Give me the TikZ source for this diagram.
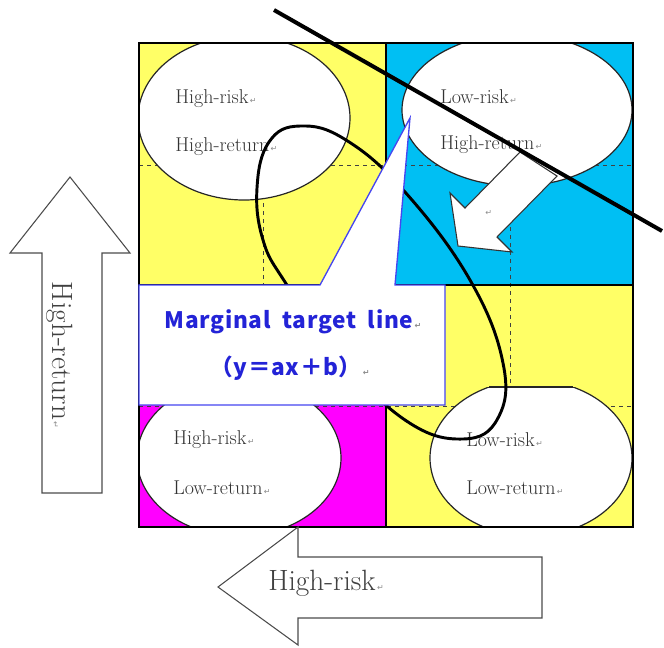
\documentclass[tikz,border=0pt]{standalone}
\usepackage{fontspec}
\usepackage{xcolor}
\usepackage{tikz}
\usetikzlibrary{positioning}
\newfontfamily\gothfont{Noto Sans CJK JP}[LetterSpace=3]
\newfontfamily\retfont{DejaVu Sans}
\definecolor{qyellow}{RGB}{255,255,102}
\definecolor{qcyan}{RGB}{0,191,243}
\definecolor{qmagenta}{RGB}{255,0,255}
\definecolor{calloutblue}{RGB}{70,70,240}
\definecolor{textblue}{RGB}{35,35,215}
\newcommand{\retmark}{{\retfont\fontsize{6}{6}\selectfont\color{black!45}\,↵}}

\begin{document}
\begin{tikzpicture}[x=0.75pt,y=-0.75pt,
  quadlbl/.style={font=\fontsize{15}{17}\selectfont,text=black!80,anchor=west,inner sep=0pt},
  biglbl/.style={font=\fontsize{22}{24}\selectfont,text=black!75,inner sep=0pt},
  bluelbl/.style={font=\gothfont\bfseries\fontsize{17}{19}\selectfont,text=textblue},
  bigarrow/.style={draw=black!70,fill=white,line width=0.8pt},
  gridline/.style={dashed,black!75,line width=0.7pt},
  oval/.style={draw=black!85,fill=white,line width=0.9pt}]
  \useasboundingbox (0,0) rectangle (664,647);
  \def\xl{139}\def\xm{386}\def\xr{633}
  \def\yt{43}\def\ym{285}\def\yd{527}
  % quadrants
  \fill[qyellow] (\xl,\yt) rectangle (\xm,\ym);
  \fill[qcyan] (\xm,\yt) rectangle (\xr,\ym);
  \fill[qmagenta] (\xl,\ym) rectangle (\xm,\yd);
  \fill[qyellow] (\xm,\ym) rectangle (\xr,\yd);
  % dashed grid
  \foreach \x in {263,510} \draw[gridline] (\x,\yt)--(\x,\yd);
  \foreach \y in {165,406} \draw[gridline] (\xl,\y)--(\xr,\y);
  % ovals, cut flat at the top
  \foreach \cx/\cy/\rx/\ry/\ctop in {244/118/106/82/43,517/110/115/76/43,239/458/102/78/390,531/458/101/78/387} {
    \begin{scope}
      \clip (\xl,\ctop) rectangle (\xr,\yd);
      \draw[oval] (\cx,\cy) ellipse [x radius=\rx, y radius=\ry];
    \end{scope}
    \pgfmathsetmacro\hc{\rx*sqrt(1-((\cy-\ctop)/\ry)^2)}
    \draw[oval,fill=none] (\cx-\hc,\ctop)--(\cx+\hc,\ctop);
  }
  % frame
  \draw[line width=1.2pt] (\xl,\yt) rectangle (\xr,\yd) (\xm,\yt)--(\xm,\yd) (\xl,\ym)--(\xr,\ym);
  \node[quadlbl] (tlrisk) at (175,99) {High-risk\retmark};
  \node[quadlbl] (tlret) at (175,147) {High-return\retmark};
  \node[quadlbl] (trrisk) at (440,97) {Low-risk\retmark};
  \node[quadlbl] (trret) at (440,145) {High-return\retmark};
  \node[quadlbl] (blrisk) at (173,440) {High-risk\retmark};
  \node[quadlbl] (blret) at (173,488) {Low-return\retmark};
  \node[quadlbl] (brrisk) at (466,440) {Low-risk\retmark};
  \node[quadlbl] (brret) at (466,488) {Low-return\retmark};
  % loop
  \draw[line width=2.2pt] plot[smooth cycle,tension=0.7] coordinates {(257,188) (269,142) (300,126) (346,140) (405,192) (470,280) (503,363) (498,418) (463,439) (405,420) (335,352) (285,282) (263,240)};
  % callout
  \draw[calloutblue,fill=white,line width=1pt] (\xl,\ym)--(320,\ym)--(410,118)--(395,\ym)--(445,\ym)--(445,405)--(\xl,405)--cycle;
  \node[bluelbl] (mtl) at (293,322) {Marginal\ \ target\ \ line\retmark};
  \node[bluelbl] (eqn) at (290,368) {（y＝ax＋b）\retmark};
  % arrow into the quadrant
  \draw[draw=black!80,fill=white,line width=0.8pt] (520,152)--(557,176)--(497,237)--(512,252)--(458,246)--(450,193)--(465,208)--cycle;
  \node[inner sep=0pt] (arrmark) at (488,213) {\retmark};
  % target line
  \draw[line width=3pt] (274,10)--(662,231);
  % side arrows
  \draw[bigarrow] (70,177)--(130,253)--(102,253)--(102,493)--(42,493)--(42,253)--(10,253)--cycle;
  \node[biglbl,rotate=-90] (hret) at (60,355) {High-return\retmark};
  \draw[bigarrow] (218,587)--(298,527)--(298,557)--(542,557)--(542,618)--(298,618)--(298,645)--cycle;
  \node[biglbl,anchor=west] (hrisk) at (268,583) {High-risk\retmark};
\end{tikzpicture}
\end{document}
